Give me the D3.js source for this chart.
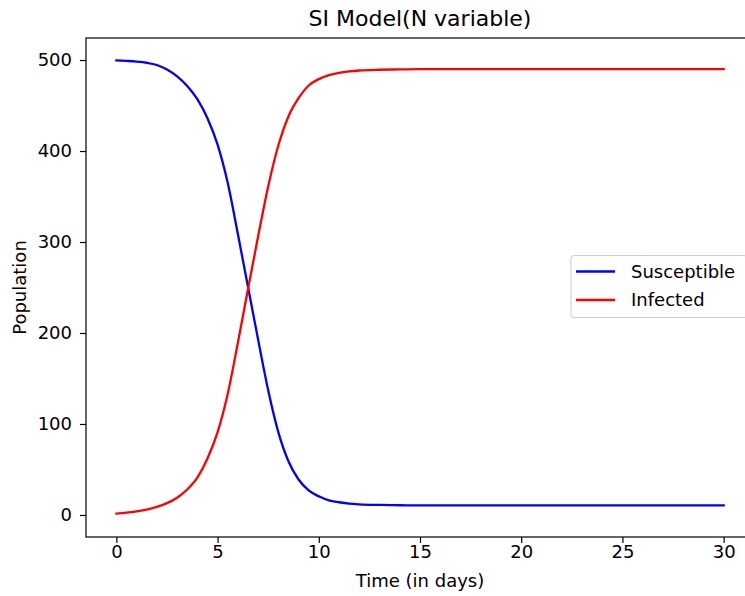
<!DOCTYPE html>
<html>
<head>
<meta charset="utf-8">
<script src="https://cdn.jsdelivr.net/npm/d3@7"></script>
<style>
  html, body { margin: 0; padding: 0; background: #fff; }
  svg { display: block; font-family: "DejaVu Sans", sans-serif; }
</style>
</head>
<body>
<svg id="chart" width="745" height="596"></svg>
<script>
// ---- data ----
const days = [0,0.5,1,1.5,2,2.5,3,3.5,4,4.5,5,5.5,6,6.5,7,7.5,8,8.5,9,9.5,10,10.5,11,11.5,12,13,14,15,16,18,20,22,24,26,28,30];
const susceptible = [499.5,499,498.3,497,494.5,489.5,482,471.5,457,436,407,365,309,251,193,137,91,59,39,27,20.5,16,14,12.5,11.7,11,10.7,10.5,10.5,10.5,10.5,10.5,10.5,10.5,10.5,10.5];
const infected = [1.5,2.5,4,6,9,13,19,28,41,62,91,133,189,248,306,361,406,438,458,472,479,483.5,486,487.5,488.5,489.3,489.7,490,490,490,490,490,490,490,490,490];
const xTicks = [0,5,10,15,20,25,30];
const yTicks = [0,100,200,300,400,500];
const seriesNames = ["Susceptible","Infected"];
const seriesColors = ["#0000ff","#ff0000"];
const titleText = "SI Model(N variable)";
const xLabel = "Time (in days)";
const yLabel = "Population";

// ---- layout ----
const svg = d3.select("#chart");
const L = 86, R = 754, T = 38, B = 537;
const FS = 18;
const x = d3.scaleLinear().domain([-1.5, 31.5]).range([L, R]);
const y = d3.scaleLinear().domain([-24.2, 524.2]).range([B, T]);

// lines
const series = [susceptible, infected];
const line = d3.line().x((d, i) => x(days[i])).y(d => y(d)).curve(d3.curveMonotoneX);
series.forEach((s, k) => {
  svg.append("path").datum(s)
    .attr("d", line)
    .attr("fill", "none")
    .attr("stroke", seriesColors[k])
    .attr("stroke-width", 2.3)
    .attr("stroke-linejoin", "round")
    .attr("stroke-linecap", "square");
});

// frame
svg.append("rect").attr("x", L).attr("y", T).attr("width", R - L).attr("height", B - T)
  .attr("fill", "none").attr("stroke", "#000").attr("stroke-width", 1.2);

// axes
const xAxis = d3.axisBottom(x).tickValues(xTicks).tickSize(6).tickPadding(2).tickSizeOuter(0);
const gx = svg.append("g").attr("transform", `translate(0,${B})`).call(xAxis);
const yAxis = d3.axisLeft(y).tickValues(yTicks).tickSize(6).tickPadding(8).tickSizeOuter(0);
const gy = svg.append("g").attr("transform", `translate(${L},0)`).call(yAxis);
[gx, gy].forEach(g => {
  g.select(".domain").remove();
  g.selectAll(".tick line").attr("stroke", "#000").attr("stroke-width", 1.2);
  g.selectAll(".tick text").attr("fill", "#000").style("font-size", FS + "px")
    .style("font-family", "DejaVu Sans, sans-serif");
});

// title and labels
svg.append("text").attr("x", (L + R) / 2).attr("y", 26).attr("text-anchor", "middle")
  .style("font-size", "22px").attr("fill", "#000").text(titleText);
svg.append("text").attr("x", (L + R) / 2).attr("y", 587).attr("text-anchor", "middle")
  .style("font-size", FS + "px").attr("fill", "#000").text(xLabel);
svg.append("text").attr("transform", `translate(26,${(T + B) / 2}) rotate(-90)`)
  .attr("text-anchor", "middle").style("font-size", FS + "px").attr("fill", "#000").text(yLabel);

// legend
const lg = svg.append("g");
lg.append("rect").attr("x", 571).attr("y", 255.5).attr("width", 176).attr("height", 62)
  .attr("rx", 3).attr("fill", "#fff").attr("fill-opacity", 0.8)
  .attr("stroke", "#cccccc").attr("stroke-width", 1);
seriesNames.forEach((name, i) => {
  const yy = 271.5 + i * 28.5;
  lg.append("line").attr("x1", 576).attr("x2", 615).attr("y1", yy).attr("y2", yy)
    .attr("stroke", seriesColors[i]).attr("stroke-width", 2.3);
  lg.append("text").attr("x", 631).attr("y", yy + 6.4).style("font-size", FS + "px")
    .attr("fill", "#000").text(name);
});
</script>
</body>
</html>
